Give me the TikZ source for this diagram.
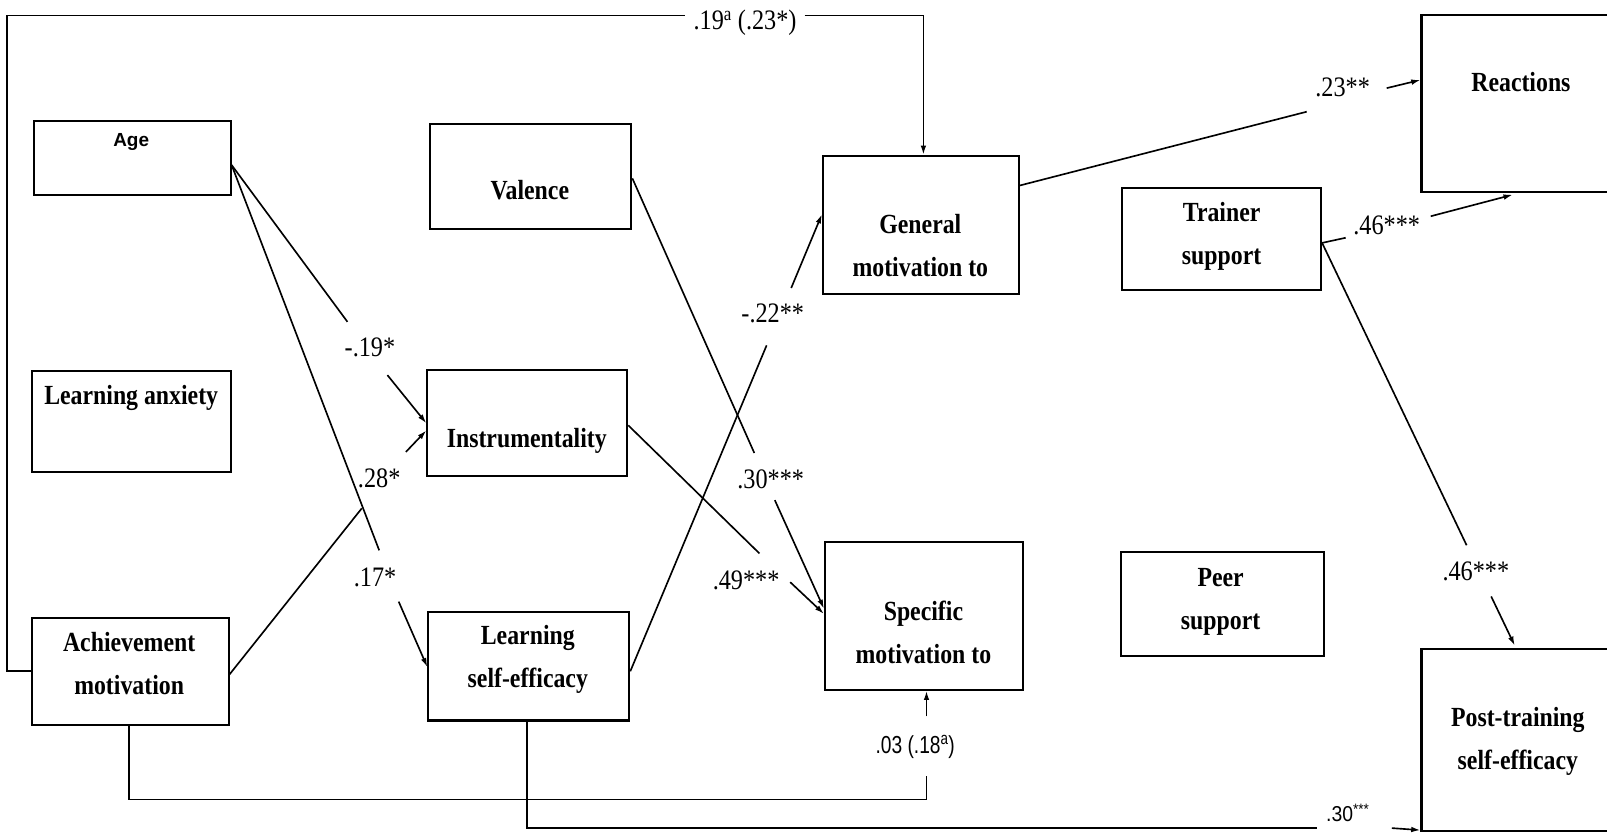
\documentclass[tikz,border=0pt]{standalone}
\usepackage{fontspec}
\usepackage{graphicx}
\usetikzlibrary{arrows.meta,calc}
\newfontfamily\tnr{Liberation Serif}
\newfontfamily\arl{Liberation Sans}
% bold, slightly condensed box captions
\newcommand\boxtext[1]{\scalebox{0.86}[1]{\tnr\bfseries\fontsize{27}{42}\selectfont\begin{tabular}[t]{@{}c@{}}#1\end{tabular}}}
% path coefficients
\newcommand\coef[1]{\scalebox{0.86}[1]{\tnr\fontsize{27.5}{30}\selectfont #1}}
\newcommand\coefsans[2]{\scalebox{#1}[1]{\arl #2}}
\begin{document}
\begin{tikzpicture}[x=1pt,y=-1pt,
  boxnode/.style={draw, line width=2pt, inner sep=0pt, anchor=north west},
  txt/.style={anchor=base, inner sep=0pt},
  wire/.style={line width=1.6pt},
  arr/.style={wire, -{Latex[length=9pt,width=5.5pt]}}]
\useasboundingbox (0,0) rectangle (1568,813);
\clip (0,0) rectangle (1568,813);
\fill[white] (0,0) rectangle (1568,813);

% ---- boxes
\node[boxnode, minimum width=192pt, minimum height=72pt]  (age)  at (32,117)  {};
\node[boxnode, minimum width=194pt, minimum height=99pt]  (anx)  at (30,361)  {};
\node[boxnode, minimum width=192pt, minimum height=104pt] (ach)  at (30,602)  {};
\node[boxnode, minimum width=196pt, minimum height=102pt] (val)  at (419,120) {};
\node[boxnode, minimum width=195pt, minimum height=103pt] (ins)  at (416,360) {};
\node[boxnode, minimum width=196pt, minimum height=106pt] (lse)  at (417,596) {};
\node[boxnode, minimum width=191pt, minimum height=135pt] (gen)  at (802,151) {};
\node[boxnode, minimum width=193pt, minimum height=144pt] (spe)  at (804,528) {};
\node[boxnode, minimum width=194pt, minimum height=100pt] (tra)  at (1094,182) {};
\node[boxnode, minimum width=198pt, minimum height=101pt] (peer) at (1093,538) {};
\node[boxnode, minimum width=210pt, minimum height=172pt] (rea)  at (1386,14)  {};
\node[boxnode, minimum width=210pt, minimum height=178pt] (post) at (1386,632) {};

% ---- captions
\node[txt] (agetx)  at (128,143)  {\arl\bfseries\fontsize{18.5}{22}\selectfont Age};
\node[txt] (anxtx)  at (128,395)  {\boxtext{Learning anxiety}};
\node[txt] (achtx)  at (126,636)  {\boxtext{Achievement\\motivation}};
\node[txt] (valtx)  at (517,195)  {\boxtext{Valence}};
\node[txt] (instx)  at (514,437)  {\boxtext{Instrumentality}};
\node[txt] (lsetx)  at (515,629)  {\boxtext{Learning\\self-efficacy}};
\node[txt] (gentx)  at (898,228)  {\boxtext{General\\motivation to}};
\node[txt] (spetx)  at (901,605)  {\boxtext{Specific\\motivation to}};
\node[txt] (tratx)  at (1192,216) {\boxtext{Trainer\\support}};
\node[txt] (peertx) at (1191,572) {\boxtext{Peer\\support}};
\node[txt] (reatx)  at (1484,89)  {\boxtext{Reactions}};
\node[txt] (posttx) at (1481,709) {\boxtext{Post-training\\self-efficacy}};

% ---- coefficients
\node[txt] (k1)  at (727,29)   {\coef{.19\textsuperscript{a} (.23*)}};
\node[txt] (k2)  at (361,348)  {\coef{-.19*}};
\node[txt] (k3)  at (370,476)  {\coef{.28*}};
\node[txt] (k4)  at (366,572)  {\coef{.17*}};
\node[txt] (k5)  at (754,315)  {\coef{-.22**}};
\node[txt] (k6)  at (752,477)  {\coef{.30***}};
\node[txt] (k7)  at (728,575)  {\coef{.49***}};
\node[txt] (k8)  at (1310,94)  {\coef{.23**}};
\node[txt] (k9)  at (1353,229) {\coef{.46***}};
\node[txt] (k10) at (1440,566) {\coef{.46***}};
\node[txt] (k11) at (893,735)  {\coefsans{0.78}{\fontsize{24}{28}\selectfont .03 (.18\textsuperscript{a})}};
\node[txt] (k12) at (1315,802) {\coefsans{0.9}{\fontsize{21}{24}\selectfont .30\textsuperscript{***}}};

% ---- break points around the coefficients
\coordinate (tl) at (7,15);
\coordinate (t1) at (668,15);   \coordinate (t2) at (785,15);
\coordinate (a1) at (339,314);  \coordinate (a2) at (378,366);
\coordinate (a3) at (370,537);  \coordinate (a4) at (389,587);
\coordinate (b1) at (353,496);  \coordinate (b2) at (396,441);
\coordinate (v1) at (736,442);  \coordinate (v2) at (756,488);
\coordinate (i1) at (741,540);  \coordinate (i2) at (771,568);
\coordinate (s1) at (748,337);  \coordinate (s2) at (772,281);
\coordinate (g1) at (1275,109); \coordinate (g2) at (1353,86);
\coordinate (r1) at (1313,232); \coordinate (r2) at (1396,211);
\coordinate (p1) at (1431,532); \coordinate (p2) at (1455,582);
\coordinate (c2) at (904,757);  \coordinate (c3) at (904,699);
\coordinate (d1) at (1285,808); \coordinate (d2) at (1358,808);

% ---- connectors
% achievement motivation -> general motivation (loop over the top)
\draw[wire] (ach.west) -| (tl) -- (t1);
\draw[arr] (t2) -| ($(gen.north west)+(99,0)$);
% age
\coordinate (ageout) at ($(age.north east)+(0,44)$);
\draw[wire] (ageout) -- (a1);
\draw[arr] (a2) -- ($(ins.north west)+(0,53)$);
\draw[wire] (ageout) -- (a3);
\draw[arr] (a4) -- ($(lse.north west)+(0,55)$);
% achievement motivation -> instrumentality
\draw[wire] ($(ach.north east)+(0,56)$) -- (b1);
\draw[arr] (b2) -- ($(ins.north west)+(0,60)$);
% valence / instrumentality -> specific motivation
\draw[wire] ($(val.north east)+(0,54)$) -- (v1);
\draw[arr] (v2) -- ($(spe.north west)+(0,66)$);
\draw[wire] ($(ins.north east)+(0,55)$) -- (i1);
\draw[arr] (i2) -- ($(spe.north west)+(0,71)$);
% learning self-efficacy -> general motivation
\draw[wire] ($(lse.north east)+(0,59)$) -- (s1);
\draw[arr] (s2) -- ($(gen.north west)+(0,58)$);
% general motivation -> reactions
\draw[wire] ($(gen.north east)+(0,30)$) -- (g1);
\draw[arr] (g2) -- ($(rea.north west)+(0,64)$);
% trainer support -> reactions / post-training self-efficacy
\coordinate (traout) at ($(tra.north east)+(0,55)$);
\draw[wire] (traout) -- (r1);
\draw[arr] (r2) -- ($(rea.south west)+(90,2)$);
\draw[wire] (traout) -- (p1);
\draw[arr] (p2) -- ($(post.north west)+(92,-2)$);
% achievement motivation -> specific motivation (below)
\draw[wire] ($(ach.south west)+(96,0)$) -- ++(0,72) -| (c2);
\draw[arr] (c3) -- ($(spe.south west)+(100,0)$);
% learning self-efficacy -> post-training self-efficacy (below)
\draw[wire] ($(lse.south west)+(97,0)$) -- ++(0,104) -- (d1);
\draw[arr] (d2) -- ($(post.south west)+(0,-2)$);
\end{tikzpicture}
\end{document}
